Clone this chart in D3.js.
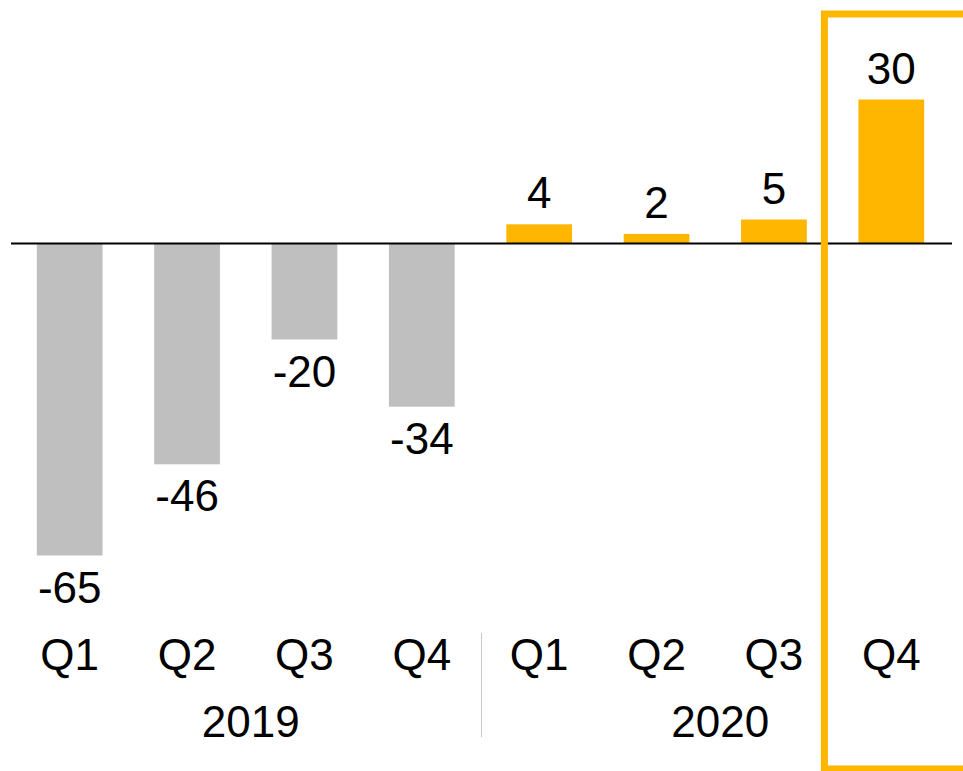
<!DOCTYPE html>
<html>
<head>
<meta charset="utf-8">
<script src="https://cdn.jsdelivr.net/npm/d3@7"></script>
<style>
	body { margin: 0; background: #fff; }
	svg { display: block; font-family: 'Liberation Sans', Arial, sans-serif; }
</style>
</head>
<body>
<div id="chart"></div>
<script>
/* global d3 */

const quarters = ['Q1', 'Q2', 'Q3', 'Q4', 'Q1', 'Q2', 'Q3', 'Q4'];
const years = ['2019', '2019', '2019', '2019', '2020', '2020', '2020', '2020'];
const values = [-65, -46, -20, -34, 4, 2, 5, 30];
const yearLabels = ['2019', '2020'];

const width = 963;
const height = 771;
const grey = '#bfbfbf';
const orange = '#ffb600';

const svg = d3.select('#chart').append('svg')
	.attr('width', width)
	.attr('height', height);

const x = d3.scaleBand()
	.domain(d3.range(values.length))
	.range([11, 950])
	.paddingInner(0.44)
	.paddingOuter(0.22);

const y = d3.scaleLinear()
	.domain([-65, 30])
	.range([555.5, 99.5]);

// bars
svg.selectAll('rect.bar')
	.data(values)
	.enter().append('rect')
	.attr('class', 'bar')
	.attr('x', (d, i) => x(i))
	.attr('width', x.bandwidth())
	.attr('y', d => y(Math.max(0, d)))
	.attr('height', d => Math.abs(y(d) - y(0)))
	.attr('fill', (d, i) => years[i] === '2019' ? grey : orange);

// zero line
svg.append('line')
	.attr('x1', 11)
	.attr('x2', 952)
	.attr('y1', y(0))
	.attr('y2', y(0))
	.attr('stroke', '#000')
	.attr('stroke-width', 2);

// value labels
svg.selectAll('text.value')
	.data(values)
	.enter().append('text')
	.attr('class', 'value')
	.attr('x', (d, i) => x(i) + x.bandwidth() / 2)
	.attr('y', d => d >= 0 ? y(d) - 16 : y(d) + 47)
	.attr('text-anchor', 'middle')
	.attr('font-size', 44)
	.attr('fill', '#000')
	.text(d => d);

// quarter labels
svg.selectAll('text.quarter')
	.data(quarters)
	.enter().append('text')
	.attr('class', 'quarter')
	.attr('x', (d, i) => x(i) + x.bandwidth() / 2)
	.attr('y', 670)
	.attr('text-anchor', 'middle')
	.attr('font-size', 44)
	.attr('fill', '#000')
	.text(d => d);

// year labels, centred under their quarters
svg.selectAll('text.year')
	.data(yearLabels)
	.enter().append('text')
	.attr('class', 'year')
	.attr('x', yr => {
		const idx = d3.range(values.length).filter(i => years[i] === yr);
		const first = x(idx[0]) + x.bandwidth() / 2;
		const last = x(idx[idx.length - 1]) + x.bandwidth() / 2;
		return (first + last) / 2 + 5;
	})
	.attr('y', 737)
	.attr('text-anchor', 'middle')
	.attr('font-size', 44)
	.attr('fill', '#000')
	.text(d => d);

// separator between years
const sepX = Math.round((x(3) + x.bandwidth() + x(4)) / 2) + 0.5;
svg.append('line')
	.attr('x1', sepX)
	.attr('x2', sepX)
	.attr('y1', 633)
	.attr('y2', 737)
	.attr('stroke', '#c8c8c8')
	.attr('stroke-width', 1);

// highlight frame round the last quarter
const boxLeft = x(7) - x.step() * 0.29;
svg.append('rect')
	.attr('x', boxLeft)
	.attr('y', 14)
	.attr('width', 200)
	.attr('height', 755)
	.attr('fill', 'none')
	.attr('stroke', orange)
	.attr('stroke-width', 7);
</script>
</body>
</html>
